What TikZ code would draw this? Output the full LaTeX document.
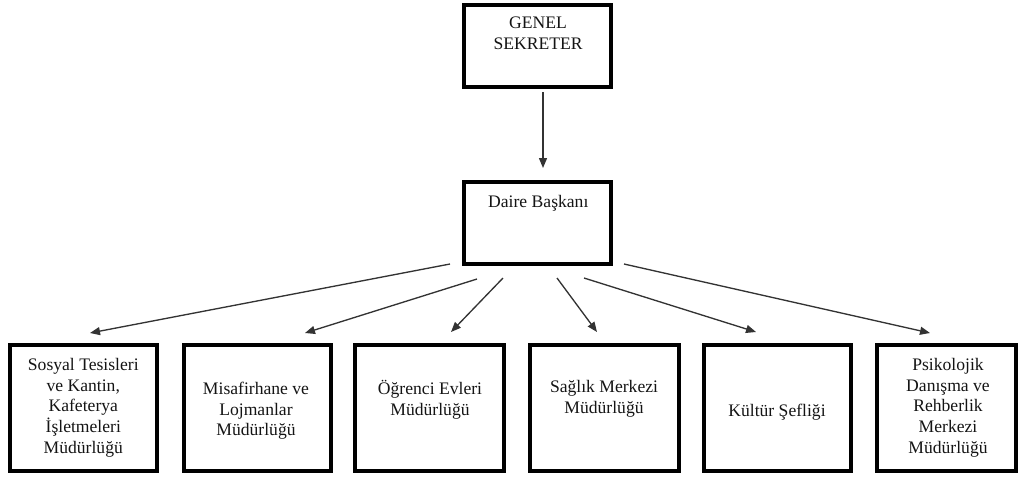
\documentclass[tikz,border=0pt]{standalone}
\usepackage{fontspec}
\setmainfont{Liberation Serif}
\usetikzlibrary{arrows.meta}
\begin{document}
\begin{tikzpicture}[x=0.75pt,y=-0.75pt,
  frame/.style 2 args={draw=black, line width=3pt, rectangle, inner sep=0pt,
    minimum width=#1*0.75pt, minimum height=#2*0.75pt},
  boxtext/.style={inner sep=0pt, anchor=north, align=center,
    font=\fontsize{13.2pt}{15.5pt}\selectfont, text=black!92},
  link/.style={draw=black!80, line width=1pt,
    -{Triangle[length=7.5pt,width=6pt]}}]
\useasboundingbox (0,0) rectangle (1019,476);

% boxes
\node[frame={147}{82}]  (gs)  at (537.5,46)  {};
\node[frame={147}{82}]  (db)  at (537.5,223) {};
\node[frame={147}{126}] (b1)  at (83.5,408)  {};
\node[frame={147}{126}] (b2)  at (257.5,408) {};
\node[frame={149}{126}] (b3)  at (429.5,408) {};
\node[frame={149}{126}] (b4)  at (604.5,408) {};
\node[frame={147}{126}] (b5)  at (777.5,408) {};
\node[frame={139}{126}] (b6)  at (946.5,408) {};

% box texts
\node[boxtext] (tgs) at (538,16.7)  {GENEL\\SEKRETER};
\node[boxtext] (tdb) at (538.3,195) {Daire Başkanı};
\node[boxtext] (tb1) at (83.3,358)  {Sosyal Tesisleri\\ve Kantin,\\Kafeterya\\İşletmeleri\\Müdürlüğü};
\node[boxtext] (tb2) at (256,381.7) {Misafirhane ve\\Lojmanlar\\Müdürlüğü};
\node[boxtext] (tb3) at (430,380)   {Öğrenci Evleri\\Müdürlüğü};
\node[boxtext] (tb4) at (604,380.5) {Sağlık Merkezi\\Müdürlüğü};
\node[boxtext] (tb5) at (777,404)   {Kültür Şefliği};
\node[boxtext] (tb6) at (948,358)   {Psikolojik\\Danışma ve\\Rehberlik\\Merkezi\\Müdürlüğü};

% connector end points
\coordinate (s0) at (543,92);  \coordinate (e0) at (543,168);
\coordinate (s1) at (450,264); \coordinate (e1) at (90,333);
\coordinate (s2) at (477,279); \coordinate (e2) at (305,333);
\coordinate (s3) at (503,278); \coordinate (e3) at (451,332);
\coordinate (s4) at (557,278); \coordinate (e4) at (597,332);
\coordinate (s5) at (584,278); \coordinate (e5) at (756,332);
\coordinate (s6) at (624,264); \coordinate (e6) at (930,333);

% connectors
\draw[link] (s0) -- (e0);
\draw[link] (s1) -- (e1);
\draw[link] (s2) -- (e2);
\draw[link] (s3) -- (e3);
\draw[link] (s4) -- (e4);
\draw[link] (s5) -- (e5);
\draw[link] (s6) -- (e6);
\end{tikzpicture}
\end{document}
